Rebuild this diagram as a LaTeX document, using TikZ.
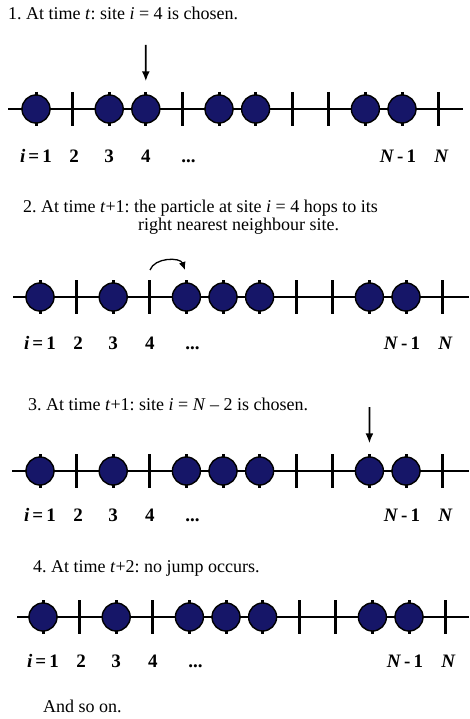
\documentclass[tikz,border=0pt]{standalone}
\usepackage{fontspec}
\setmainfont{Liberation Serif}
\usetikzlibrary{arrows.meta}
\definecolor{partblue}{RGB}{22,22,104}
\frenchspacing

\begin{document}
\begin{tikzpicture}[
  x=1pt, y=-1pt,
  font=\fontsize{18}{15}\selectfont,
  chain/.style={line width=2.5pt},
  tick/.style={line width=3pt},
  part/.style={draw, circle, line width=1.4pt, fill=partblue, minimum size=28pt, inner sep=0pt},
  lbl/.style={font=\fontsize{19}{21}\selectfont\bfseries, anchor=base, inner sep=0pt},
  ttl/.style={anchor=base west, inner sep=0pt, align=left},
  pick/.style={-{Latex[length=10pt,width=8pt]}, line width=1.8pt, shorten >=13pt},
  hop/.style={-{Latex[length=8pt,width=7pt]}, line width=1.3pt}
]
\useasboundingbox (0,0) rectangle (469,719);
% ---------------- step 1: site 4 picked ------------------------------------
\node[ttl] (t1) at (8,20) {1. At time \textit{t}: site \textit{i} = 4 is chosen.};
\begin{scope}[shift={(36,109)}]
  \draw[chain] (-28,0) -- (427,0);
  \foreach \k in {1,...,12}
    \draw[tick] (\k*36.6-36.6,-17) -- (\k*36.6-36.6,17);
  \foreach \k in {1,3,4,6,7,10,11}
    \node[part] (p1-\k) at (\k*36.6-36.6,0) {};
  \foreach \k/\dx/\txt in {1/0/{\textit{i}\,=\,1}, 2/1.5/2, 3/0/3, 4/0/4, 5/6/{...}, 11/-4/{\textit{N}\,-\,1}, 12/3/{\textit{N}}}
    \node[lbl] (n1-\k) at (\k*36.6-36.6+\dx,54) {\txt};
  \coordinate (a1) at (109.8,-64);
  \draw[pick] (a1) -- (p1-4);
\end{scope}
% ---------------- step 2: the hop -----------------------------------------
\node[ttl, anchor=north west] (t2) at (23,200) {2. At time \textit{t}+1: the particle at site \textit{i} = 4 hops to its\\
  \hspace*{115pt}right nearest neighbour site.};
\begin{scope}[shift={(40,297)}]
  \draw[chain] (-27,0) -- (429,0);
  \foreach \k in {1,...,12}
    \draw[tick] (\k*36.6-36.6,-17) -- (\k*36.6-36.6,17);
  \foreach \k in {1,3,5,6,7,10,11}
    \node[part] (p2-\k) at (\k*36.6-36.6,0) {};
  \foreach \k/\dx/\txt in {1/0/{\textit{i}\,=\,1}, 2/1.5/2, 3/0/3, 4/0/4, 5/6/{...}, 11/-4/{\textit{N}\,-\,1}, 12/3/{\textit{N}}}
    \node[lbl] (n2-\k) at (\k*36.6-36.6+\dx,52) {\txt};
  \coordinate (h1) at (110,-27);
  \coordinate (h2) at (145,-27);
  \draw[hop] (h1) to[out=70, in=110] (h2);
\end{scope}
% ---------------- step 3: site N-2 picked ----------------------------------
\node[ttl] (t3) at (28,410) {3. At time \textit{t}+1: site \textit{i} = \textit{N} -- 2 is chosen.};
\begin{scope}[shift={(40,471)}]
  \draw[chain] (-28,0) -- (429,0);
  \foreach \k in {1,...,12}
    \draw[tick] (\k*36.6-36.6,-17) -- (\k*36.6-36.6,17);
  \foreach \k in {1,3,5,6,7,10,11}
    \node[part] (p3-\k) at (\k*36.6-36.6,0) {};
  \foreach \k/\dx/\txt in {1/0/{\textit{i}\,=\,1}, 2/1.5/2, 3/0/3, 4/0/4, 5/6/{...}, 11/-4/{\textit{N}\,-\,1}, 12/3/{\textit{N}}}
    \node[lbl] (n3-\k) at (\k*36.6-36.6+\dx,50) {\txt};
  \coordinate (a3) at (329.4,-64);
  \draw[pick] (a3) -- (p3-10);
\end{scope}
% ---------------- step 4: nothing moves ------------------------------------
\node[ttl] (t4) at (33,572) {4. At time \textit{t}+2: no jump occurs.};
\begin{scope}[shift={(43,617)}]
  \draw[chain] (-26,0) -- (426,0);
  \foreach \k in {1,...,12}
    \draw[tick] (\k*36.6-36.6,-17) -- (\k*36.6-36.6,17);
  \foreach \k in {1,3,5,6,7,10,11}
    \node[part] (p4-\k) at (\k*36.6-36.6,0) {};
  \foreach \k/\dx/\txt in {1/0/{\textit{i}\,=\,1}, 2/1.5/2, 3/0/3, 4/0/4, 5/6/{...}, 11/-4/{\textit{N}\,-\,1}, 12/3/{\textit{N}}}
    \node[lbl] (n4-\k) at (\k*36.6-36.6+\dx,50) {\txt};
\end{scope}
\node[ttl] (more) at (43,712) {And so on.};
\end{tikzpicture}
\end{document}
